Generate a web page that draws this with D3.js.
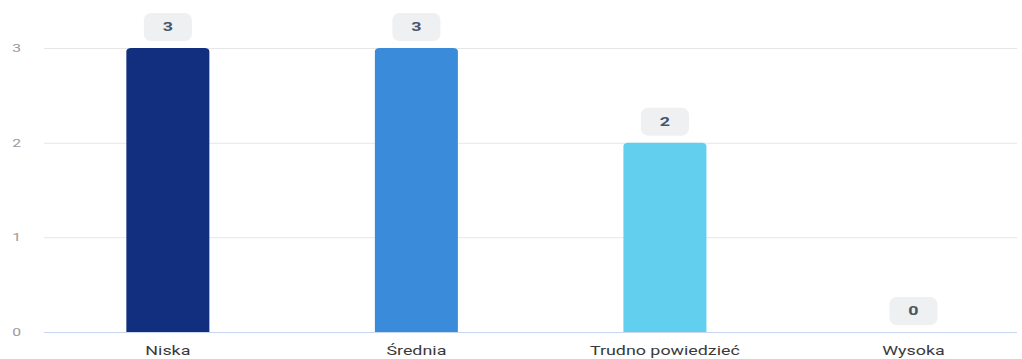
<!DOCTYPE html>
<html>
<head>
<meta charset="utf-8">
<script src="https://cdn.jsdelivr.net/npm/d3@7"></script>
<style>
  html, body { margin: 0; padding: 0; background: #fff; overflow: hidden; }
  svg { display: block; }
</style>
</head>
<body>
<svg id="chart"></svg>
<script>
// Categories, values and colours for the bar chart
const categories = ["Niska", "Średnia", "Trudno powiedzieć", "Wysoka"];
const values = [3, 3, 2, 0];
const barColors = ["#112f7e", "#3a8bd9", "#62cfef", "#a3b8e8"];
const yTicks = [0, 1, 2, 3];

// The drawing is laid out on a narrower canvas and stretched to fill the window
const outerW = 1022, outerH = 359;
const W = 715, H = 359;

const svg = d3.select("#chart")
  .attr("width", outerW)
  .attr("height", outerH)
  .attr("viewBox", `0 0 ${W} ${H}`)
  .attr("preserveAspectRatio", "none");

const gridLeft = 30.8, gridRight = 711.5;
const y = d3.scaleLinear().domain([0, 3]).range([332, 48]);
const x = d3.scaleBand()
  .domain(categories)
  .range([30.5, 726])
  .paddingInner(0.666)
  .paddingOuter(0.333);

const font = "Roboto, 'Liberation Sans', Arial, sans-serif";

// Horizontal grid lines
svg.append("g")
  .selectAll("line")
  .data(yTicks)
  .join("line")
  .attr("x1", gridLeft)
  .attr("x2", gridRight)
  .attr("y1", d => y(d) + 0.5)
  .attr("y2", d => y(d) + 0.5)
  .attr("stroke", d => d === 0 ? "#c8d5ee" : "#e6e6e6")
  .attr("stroke-width", 1);

// Y tick labels
svg.append("g")
  .selectAll("text")
  .data(yTicks)
  .join("text")
  .attr("x", 14.7)
  .attr("y", d => y(d))
  .attr("dy", "0.35em")
  .attr("text-anchor", "end")
  .attr("font-family", font)
  .attr("font-size", 11)
  .attr("fill", "#9a9a9a")
  .text(d => d);

// Bars with rounded top corners
const r = 3.5;
function barPath(x0, w, yTop, yBase) {
  const h = yBase - yTop;
  if (h <= 0) return "";
  const rr = Math.min(r, h);
  return `M${x0},${yBase} V${yTop + rr} Q${x0},${yTop} ${x0 + rr},${yTop} H${x0 + w - rr} Q${x0 + w},${yTop} ${x0 + w},${yTop + rr} V${yBase} Z`;
}

svg.append("g")
  .selectAll("path")
  .data(categories)
  .join("path")
  .attr("d", (c, i) => barPath(x(c), x.bandwidth(), y(values[i]), y(0)))
  .attr("fill", (c, i) => barColors[i]);

// Value labels in rounded boxes above each bar
const boxW = 33.6, boxH = 28, gap = 7;
const labels = svg.append("g")
  .selectAll("g")
  .data(categories)
  .join("g")
  .attr("transform", (c, i) => `translate(${x(c) + x.bandwidth() / 2},${y(values[i]) - gap - boxH})`);

labels.append("rect")
  .attr("x", -boxW / 2)
  .attr("y", 0)
  .attr("width", boxW)
  .attr("height", boxH)
  .attr("rx", 5)
  .attr("ry", 7)
  .attr("fill", "#eef0f1");

labels.append("text")
  .attr("x", 0)
  .attr("y", boxH / 2)
  .attr("dy", "0.36em")
  .attr("text-anchor", "middle")
  .attr("font-family", font)
  .attr("font-size", 12.5)
  .attr("font-weight", "bold")
  .attr("fill", "#4a5466")
  .text((c, i) => values[i]);

// Category labels
svg.append("g")
  .selectAll("text")
  .data(categories)
  .join("text")
  .attr("x", c => x(c) + x.bandwidth() / 2)
  .attr("y", 355)
  .attr("text-anchor", "middle")
  .attr("font-family", font)
  .attr("font-size", 12.5)
  .attr("fill", "#3a3a3a")
  .text(c => c);
</script>
</body>
</html>
